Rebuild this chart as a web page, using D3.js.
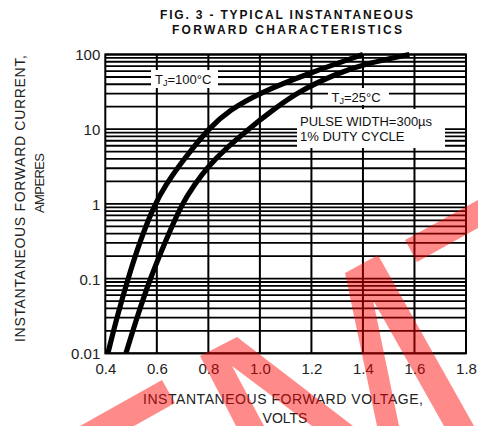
<!DOCTYPE html>
<html>
<head>
<meta charset="utf-8">
<script src="https://cdn.jsdelivr.net/npm/d3@7"></script>
<style>
  html, body { margin: 0; padding: 0; background: #fff; }
  svg { display: block; }
  text { font-family: "Liberation Sans", Arial, Helvetica, sans-serif; }
</style>
</head>
<body>
<svg id="chart" width="478" height="426"></svg>
<script>
// Forward voltage (V) and instantaneous forward current (A), one pair of arrays per junction temperature
const hotVolts  = [0.41, 0.447, 0.488, 0.535, 0.592, 0.635, 0.685, 0.74, 0.80, 0.88, 1.01, 1.19, 1.40];
const hotAmps   = [0.01, 0.032, 0.10,  0.32,  1.0,   1.8,   3.2,   5.6,  10,   18,   32,   56,   100];
const coldVolts = [0.48, 0.525, 0.574, 0.634, 0.697, 0.745, 0.80, 0.87, 0.955, 1.05, 1.15, 1.30, 1.41, 1.58];
const coldAmps  = [0.01, 0.032, 0.10,  0.32,  1.0,   1.8,   3.2,  5.6,  10,    18,   32,   56,   75,   100];

const xTicks = [0.4, 0.6, 0.8, 1.0, 1.2, 1.4, 1.6, 1.8];
const xTickLabels = ["0.4", "0.6", "0.8", "1.0", "1.2", "1.4", "1.6", "1.8"];
const yTicks = [0.01, 0.1, 1, 10, 100];
const yTickLabels = ["0.01", "0.1", "1", "10", "100"];

const titleLines = ["FIG. 3 - TYPICAL INSTANTANEOUS", "FORWARD CHARACTERISTICS"];
const xTitleLines = ["INSTANTANEOUS FORWARD VOLTAGE,", "VOLTS"];
const yTitleLines = ["INSTANTANEOUS FORWARD CURRENT,", "AMPERES"];

const svg = d3.select("#chart");

const x = d3.scaleLinear().domain([0.4, 1.8]).range([105.3, 466]);
const y = d3.scaleLog().domain([0.01, 100]).range([353.3, 54.5]);

// Minor log grid values: 1..9 in every decade
const hLines = [];
[0.01, 0.1, 1, 10].forEach(d => { for (let k = 1; k <= 9; k++) hLines.push(d * k); });
hLines.push(100);

const grid = svg.append("g");
grid.selectAll("line.h").data(hLines).join("line")
  .attr("x1", x(0.4)).attr("x2", x(1.8))
  .attr("y1", d => y(d)).attr("y2", d => y(d))
  .attr("stroke", "#000").attr("stroke-width", 1.8);
grid.selectAll("line.v").data(xTicks.slice(1, -1)).join("line")
  .attr("x1", d => x(d)).attr("x2", d => x(d))
  .attr("y1", y(100)).attr("y2", y(0.01))
  .attr("stroke", "#000").attr("stroke-width", 2);

// Label panels sit on white boxes that interrupt the grid
const panels = svg.append("g");
function panel(x0, y0, x1, y1) {
  panels.append("rect").attr("x", x0).attr("y", y0)
    .attr("width", x1 - x0).attr("height", y1 - y0).attr("fill", "#fff");
}
panel(151, 70, 218, 88);
panel(328, 88, 389, 105);
panel(297, 109, 445, 148);

function tjLabel(xp, yp, rest) {
  const t = panels.append("text").attr("x", xp).attr("y", yp)
    .attr("font-size", 13).attr("fill", "#111");
  t.append("tspan").text("T");
  t.append("tspan").attr("font-size", 9).attr("dy", 2).text("J");
  t.append("tspan").attr("dy", -2).text(rest);
}
tjLabel(155, 83.5, "=100°C");
tjLabel(331.5, 102, "=25°C");
panels.append("text").attr("x", 300).attr("y", 126).attr("font-size", 13).attr("fill", "#111")
  .text("PULSE WIDTH=300µs");
panels.append("text").attr("x", 300).attr("y", 141).attr("font-size", 13).attr("fill", "#111")
  .text("1% DUTY CYCLE");

// Characteristic curves (smoothed through the read-off points)
const line = d3.line()
  .x(d => x(d[0])).y(d => y(d[1]))
  .curve(d3.curveBasis);
const curves = [d3.zip(hotVolts, hotAmps), d3.zip(coldVolts, coldAmps)];
svg.append("g").selectAll("path").data(curves).join("path")
  .attr("d", line).attr("fill", "none")
  .attr("stroke", "#000").attr("stroke-width", 5.2)
  .attr("stroke-linecap", "butt").attr("stroke-linejoin", "round");

// Plot frame
svg.append("rect")
  .attr("x", x(0.4)).attr("y", y(100))
  .attr("width", x(1.8) - x(0.4)).attr("height", y(0.01) - y(100))
  .attr("fill", "none").attr("stroke", "#000").attr("stroke-width", 2);

// Axis tick labels
const xAxis = d3.axisBottom(x).tickValues(xTicks).tickSize(0)
  .tickFormat((d, i) => xTickLabels[i]);
const gx = svg.append("g").attr("transform", `translate(0, ${y(0.01)})`).call(xAxis);
gx.select(".domain").remove();
gx.selectAll("text").attr("font-size", 15).attr("fill", "#222")
  .attr("font-family", '"Liberation Sans", Arial, sans-serif')
  .attr("dy", 0).attr("y", 20.5);

const yAxis = d3.axisLeft(y).tickValues(yTicks).tickSize(0)
  .tickFormat((d, i) => yTickLabels[i]);
const gy = svg.append("g").attr("transform", `translate(${x(0.4)}, 0)`).call(yAxis);
gy.select(".domain").remove();
gy.selectAll("text").attr("font-size", 15).attr("fill", "#222")
  .attr("font-family", '"Liberation Sans", Arial, sans-serif')
  .attr("x", -5).attr("dy", "0.36em");

// Titles
svg.append("text").attr("x", 286.5).attr("y", 18.5).attr("text-anchor", "middle")
  .attr("font-size", 12).attr("font-weight", "bold").attr("fill", "#111")
  .attr("textLength", 253).attr("lengthAdjust", "spacing").text(titleLines[0]);
svg.append("text").attr("x", 287).attr("y", 33.5).attr("text-anchor", "middle")
  .attr("font-size", 12).attr("font-weight", "bold").attr("fill", "#111")
  .attr("textLength", 230).attr("lengthAdjust", "spacing").text(titleLines[1]);

svg.append("text").attr("x", 283).attr("y", 403.5).attr("text-anchor", "middle")
  .attr("font-size", 14).attr("fill", "#222")
  .attr("textLength", 280).attr("lengthAdjust", "spacing").text(xTitleLines[0]);
svg.append("text").attr("x", 285).attr("y", 422.5).attr("text-anchor", "middle")
  .attr("font-size", 14).attr("fill", "#222").text(xTitleLines[1]);

svg.append("text").attr("transform", "translate(24.5, 198.5) rotate(-90)")
  .attr("text-anchor", "middle").attr("font-size", 14).attr("fill", "#222")
  .attr("textLength", 287).attr("lengthAdjust", "spacing").text(yTitleLines[0]);
svg.append("text").attr("transform", "translate(43.5, 183) rotate(-90)")
  .attr("text-anchor", "middle").attr("font-size", 13).attr("fill", "#222")
  .attr("textLength", 60).attr("lengthAdjust", "spacing").text(yTitleLines[1]);

// Translucent red stamp across the lower part of the sheet
const stampShapes = [
  [[80, 426], [162, 380], [175, 403], [134, 426]],
  [[200, 356], [237, 337], [353, 426], [312, 426], [232, 366], [264, 426], [236, 426]],
  [[345, 273], [378, 255], [474, 426], [444, 426], [373, 300], [399, 426], [377, 426]],
  [[405, 240], [478, 200], [478, 228], [417, 262]]
];
svg.append("g").selectAll("path").data(stampShapes).join("path")
  .attr("d", d => "M" + d.join("L") + "Z")
  .attr("fill", "#ff0000").attr("fill-opacity", 0.46);
</script>
</body>
</html>
